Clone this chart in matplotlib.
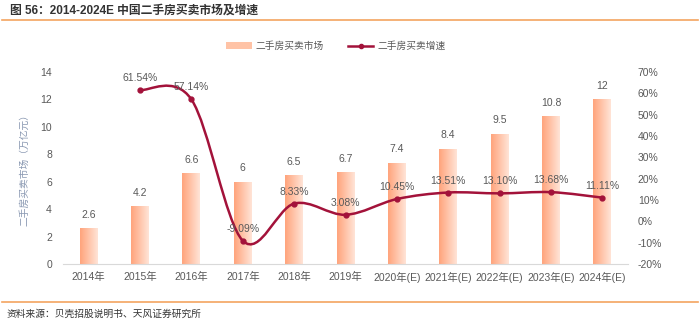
import matplotlib.pyplot as plt
import numpy as np
from matplotlib.path import Path
from matplotlib.patches import PathPatch, Patch
from matplotlib.lines import Line2D
from matplotlib.colors import LinearSegmentedColormap

plt.rcParams['font.family'] = ['Liberation Sans', 'Noto Sans CJK SC', 'DejaVu Sans']

years = ["2014年", "2015年", "2016年", "2017年", "2018年", "2019年",
         "2020年(E)", "2021年(E)", "2022年(E)", "2023年(E)", "2024年(E)"]
market = [2.6, 4.2, 6.6, 6, 6.5, 6.7, 7.4, 8.4, 9.5, 10.8, 12]
market_labels = ["2.6", "4.2", "6.6", "6", "6.5", "6.7", "7.4", "8.4", "9.5", "10.8", "12"]
growth = [61.54, 57.14, -9.09, 8.33, 3.08, 10.45, 13.51, 13.10, 13.68, 11.11]

TXT = "#595959"
LINE_C = "#A3123A"
BAR_L = "#FFA47C"
BAR_R = "#FFE4D7"

fig = plt.figure(figsize=(7, 3.25), dpi=100)
ax = fig.add_axes([63 / 700, 1 - 264 / 325, 565 / 700, 192 / 325])
ax2 = ax.twinx()

x = np.arange(len(years))
bars = ax.bar(x, market, width=0.35, color="none", edgecolor="none", zorder=2)
cmap = LinearSegmentedColormap.from_list("g", [BAR_L, BAR_R])
grad = np.linspace(0, 1, 64).reshape(1, -1)
for b in bars:
    x0, w, h = b.get_x(), b.get_width(), b.get_height()
    im = ax.imshow(grad, cmap=cmap, aspect="auto", extent=[x0, x0 + w, 0, h],
                   zorder=2, interpolation="bilinear")
    im.set_clip_path(b)
for xi, v, lab in zip(x, market, market_labels):
    ax.annotate(lab, (xi, v), xytext=(0, 6), textcoords="offset points",
                ha="center", va="bottom", fontsize=7.5, color=TXT)

ax.set_xlim(-0.5, len(years) - 0.5)
ax.set_ylim(0, 14)
ax.set_yticks(range(0, 15, 2))
ax.set_xticks(x)
ax.set_xticklabels(years)
ax.set_ylabel("二手房买卖市场（万亿元）", color="#8796B0", fontsize=7, labelpad=8)

# smooth growth curve via cubic bezier (catmull-rom control points)
gx = x[1:]
pts = np.column_stack([gx, growth])
verts = [pts[0]]
codes = [Path.MOVETO]
n = len(pts)
for i in range(n - 1):
    p0 = pts[max(i - 1, 0)]
    p1 = pts[i]
    p2 = pts[i + 1]
    p3 = pts[min(i + 2, n - 1)]
    c1 = p1 + (p2 - p0) / 6
    c2 = p2 - (p3 - p1) / 6
    verts += [c1, c2, p2]
    codes += [Path.CURVE4] * 3
curve = PathPatch(Path(verts, codes), facecolor="none", edgecolor=LINE_C,
                  lw=1.8, zorder=3, transform=ax2.transData)
ax2.add_patch(curve)
ax2.plot(gx, growth, "o", color=LINE_C, ms=3.5, zorder=4)
for xi, v in zip(gx, growth):
    ax2.annotate(f"{v:.2f}%", (xi, v), xytext=(0, 5), textcoords="offset points",
                 ha="center", va="bottom", fontsize=7.5, color=TXT, zorder=5)
ax2.set_ylim(-20, 70)
ax2.set_yticks(range(-20, 71, 10))
ax2.set_yticklabels([f"{t}%" for t in range(-20, 71, 10)])

for a in (ax, ax2):
    for s in a.spines.values():
        s.set_visible(False)
    a.tick_params(length=0, labelsize=7.5, labelcolor=TXT)
ax.spines["bottom"].set_visible(True)
ax.spines["bottom"].set_color("#D9D9D9")
ax.tick_params(axis="x", pad=6)
ax.tick_params(axis="y", pad=8)
ax2.tick_params(axis="y", pad=7)

handles = [Patch(facecolor="#FFC3A6", edgecolor="none"),
           Line2D([], [], color=LINE_C, lw=1.8, marker="o", ms=3)]
fig.legend(handles, ["二手房买卖市场", "二手房买卖增速"], loc="center",
           bbox_to_anchor=(0.48, 1 - 46 / 325), ncol=2, frameon=False,
           fontsize=7, labelcolor=TXT, handlelength=2.6, handleheight=0.6,
           columnspacing=2.5, handletextpad=0.4)

fig.text(10 / 700, 1 - 11 / 325, "图 56：2014-2024E 中国二手房买卖市场及增速",
         fontsize=8.5, fontweight="bold", color="#333333", va="center")
fig.add_artist(Line2D([2 / 700, 698 / 700], [1 - 20 / 325] * 2, color="#F4A460", lw=1.2))
fig.add_artist(Line2D([2 / 700, 698 / 700], [1 - 302 / 325] * 2, color="#F4A460", lw=1.2))
fig.text(7 / 700, 1 - 314 / 325, "资料来源：贝壳招股说明书、天风证券研究所",
         fontsize=7, color="#333333", va="center")

fig.savefig("out.png", dpi=100)
